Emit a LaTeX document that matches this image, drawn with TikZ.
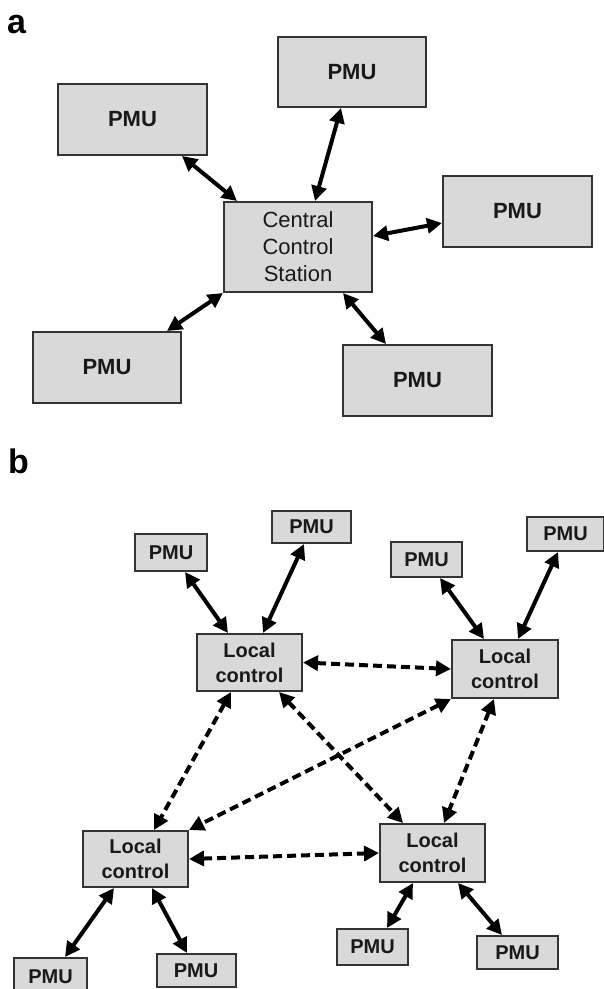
\documentclass[tikz,border=0pt]{standalone}
\usepackage{fontspec}
\setmainfont{Liberation Sans}
\usepackage{tikz}
\usetikzlibrary{positioning,calc,arrows.meta}

\tikzset{
    box/.style={draw=black!80, line width=2pt, fill=black!15, inner sep=0pt, text=black!90},
    pmu/.style={box, minimum width=149pt, minimum height=71pt, font=\fontsize{22}{26}\selectfont\bfseries},
    spmu/.style={box, minimum width=74pt, minimum height=35pt, font=\fontsize{20}{24}\selectfont\bfseries},
    ccs/.style={box, minimum width=148pt, minimum height=90pt, align=center, font=\fontsize{22}{27}\selectfont},
    lctrl/.style={box, minimum width=105pt, minimum height=57pt, align=center, font=\fontsize{20}{25}\selectfont\bfseries},
    link/.style={line width=4pt, {Triangle[length=15pt,width=15pt]}-{Triangle[length=15pt,width=15pt]}},
    dlink/.style={link, dash pattern=on 9pt off 5pt},
    tag/.style={font=\fontsize{34}{34}\selectfont\bfseries, anchor=base west, inner sep=0pt}
}

\begin{document}
\begin{tikzpicture}[x=1pt, y=-1pt]
    \useasboundingbox (0,0) rectangle (604,989);

    % (a) central control
    \node[tag] (taga) at (7,33) {a};
    \node[ccs] (cc) at (298,247) {Central\\Control\\Station};
    \node[pmu] (pa1) at (132.5,119.5) {PMU};
    \node[pmu, minimum width=148pt, minimum height=70pt] (pa2) at (352,72) {PMU};
    \node[pmu] (pa3) at (517.5,211.5) {PMU};
    \node[pmu, minimum width=148pt] (pa4) at (107,367.5) {PMU};
    \node[pmu] (pa5) at (417.5,380.5) {PMU};

    \draw[link] ([xshift=49.5pt]pa1.south) -- ([xshift=-61pt]cc.north);
    \draw[link] ([xshift=-11pt]pa2.south) -- ([xshift=17pt]cc.north);
    \draw[link] ([yshift=-11.5pt]pa3.west) -- ([yshift=11pt]cc.east);
    \draw[link] ([xshift=60pt]pa4.north) -- (cc.south west);
    \draw[link] ([xshift=45pt]cc.south) -- ([xshift=-31.5pt]pa5.north);

    % (b) local controls
    \node[tag] (tagb) at (8,473) {b};
    \node[lctrl] (lc1) at (249.5,662.5) {Local\\control};
    \node[lctrl, minimum width=106pt, minimum height=58pt] (lc2) at (505,669) {Local\\control};
    \node[lctrl, minimum height=56pt] (lc3) at (135.5,859) {Local\\control};
    \node[lctrl, minimum height=58pt] (lc4) at (432.5,853) {Local\\control};

    \node[spmu, minimum width=72pt, minimum height=37pt] (pb1) at (171,552.5) {PMU};
    \node[spmu, minimum width=79pt, minimum height=32pt] (pb2) at (311.5,527) {PMU};
    \node[spmu, minimum width=71pt] (pb3) at (426.5,559.5) {PMU};
    \node[spmu, minimum width=77pt, minimum height=34pt] (pb4) at (565.5,534) {PMU};
    \node[spmu, minimum width=73pt, minimum height=37pt] (pb5) at (50.5,976.5) {PMU};
    \node[spmu, minimum width=79pt, minimum height=33pt] (pb6) at (196,970.5) {PMU};
    \node[spmu, minimum width=71pt, minimum height=36pt] (pb7) at (372.5,947) {PMU};
    \node[spmu, minimum width=81pt, minimum height=33pt] (pb8) at (517.5,952.5) {PMU};

    \draw[link] ([xshift=14pt]pb1.south) -- ([xshift=-21.5pt]lc1.north);
    \draw[link] ([xshift=-7.5pt]pb2.south) -- ([xshift=13.5pt]lc1.north);
    \draw[link] ([xshift=13.5pt]pb3.south) -- ([xshift=-21pt]lc2.north);
    \draw[link] ([xshift=-7.5pt]pb4.south) -- ([xshift=13pt]lc2.north);
    \draw[link] ([xshift=-21.5pt]lc3.south) -- ([xshift=14.5pt]pb5.north);
    \draw[link] ([xshift=16.5pt]lc3.south) -- ([xshift=-9pt]pb6.north);
    \draw[link] ([xshift=-19.5pt]lc4.south) -- ([xshift=14.5pt]pb7.north);
    \draw[link] ([xshift=25.5pt]lc4.south) -- ([xshift=-15.5pt]pb8.north);

    % dashed links between local controls
    \draw[dlink] (lc1.east) -- (lc2.west);
    \draw[dlink] ([xshift=-18.5pt]lc1.south) -- ([xshift=18.5pt]lc3.north);
    \draw[dlink] ([xshift=29.5pt]lc1.south) -- ([xshift=-29.5pt]lc4.north);
    \draw[dlink] (lc2.south west) -- (lc3.north east);
    \draw[dlink] ([xshift=-11pt]lc2.south) -- ([xshift=11.5pt]lc4.north);
    \draw[dlink] (lc3.east) -- (lc4.west);
\end{tikzpicture}
\end{document}
